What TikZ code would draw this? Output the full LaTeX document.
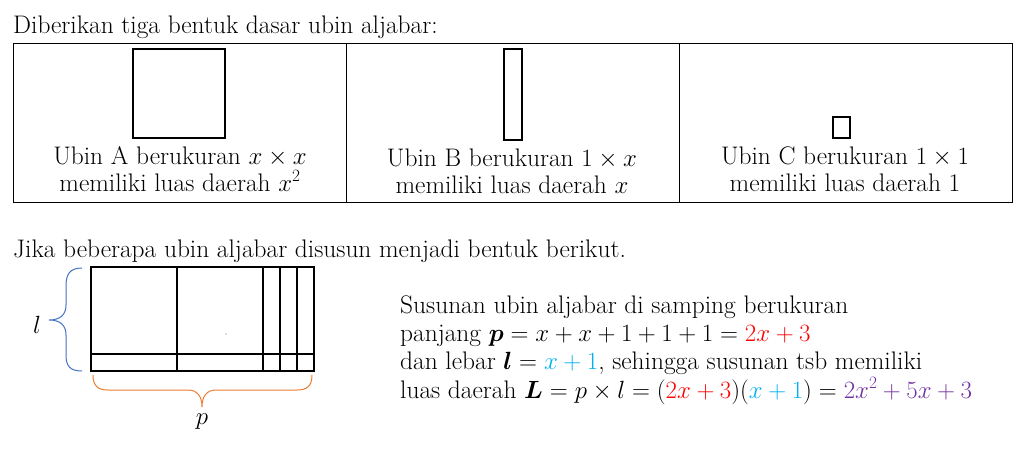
\documentclass[tikz,border=0pt]{standalone}
\usepackage{fontspec}
\usepackage{amsmath,bm}
\usepackage{xcolor}
\definecolor{cred}{RGB}{255,0,0}
\definecolor{ccyan}{RGB}{0,176,240}
\definecolor{cpurp}{RGB}{112,48,160}
\definecolor{bblue}{RGB}{68,114,196}
\definecolor{borange}{RGB}{237,125,49}
\begin{document}
\begin{tikzpicture}[x=1pt,y=-1pt,
  txt/.style={inner sep=0pt,font=\fontsize{25.4}{30}\selectfont},
  lt/.style={txt,anchor=base west},
  ct/.style={txt,anchor=base},
  tbl/.style={line width=0.9pt},
  tile/.style={line width=1.1pt},
  arr/.style={line width=1.3pt}]
\useasboundingbox (0,0) rectangle (1029,448);
% title
\node[lt] (title) at (13,33) {Diberikan tiga bentuk dasar ubin aljabar:};
% table
\draw[tbl] (13,43) rectangle (1012,202);
\draw[tbl] (346,43) -- (346,202);
\draw[tbl] (679,43) -- (679,202);
% tiles
\draw[tile] (133,49) rectangle (225,138);
\draw[tile] (504,49) rectangle (522,140);
\draw[tile] (833,117) rectangle (850,138);
% captions
\node[ct] (a1) at (180,164) {Ubin A berukuran $x\times x$};
\node[ct] (a2) at (180,191) {memiliki luas daerah $x^2$};
\node[ct] (b1) at (512,166) {Ubin B berukuran $1\times x$};
\node[ct] (b2) at (512,193) {memiliki luas daerah $x$};
\node[ct] (c1) at (845,164) {Ubin C berukuran $1\times 1$};
\node[ct] (c2) at (845,191) {memiliki luas daerah 1};
% second heading
\node[lt] (jika) at (13,257) {Jika beberapa ubin aljabar disusun menjadi bentuk berikut.};
% arrangement
\draw[arr] (91,267) rectangle (314,371);
\draw[arr] (91,354) -- (314,354);
\foreach \xx in {177,263,280,297} \draw[arr] (\xx,267) -- (\xx,371);
\fill[bblue] (226,334) circle (0.6);
% left brace
\draw[bblue,line width=1pt] (82,268) .. controls (70,268) and (66,274) .. (66,286) -- (66,305) .. controls (66,315) and (60,320) .. (49,320) .. controls (60,320) and (66,325) .. (66,335) -- (66,355) .. controls (66,366) and (70,371) .. (82,371);
\node[txt] (l) at (37,325) {$l$};
% bottom brace
\draw[borange,line width=1pt] (93,375) .. controls (93,386) and (98,390) .. (108,390) -- (188,390) .. controls (197,390) and (202,396) .. (202,407) .. controls (202,396) and (207,390) .. (216,390) -- (297,390) .. controls (307,390) and (312,386) .. (312,375);
\node[txt] (p) at (202,422) {$p$};
% explanation
\node[lt] (e1) at (400,313) {Susunan ubin aljabar di samping berukuran};
\node[lt] (e2) at (400,341) {panjang $\bm{p}=x+x+1+1+1=\textcolor{cred}{2x+3}$};
\node[lt] (e3) at (400,369) {dan lebar $\bm{l}=\textcolor{ccyan}{x+1}$, sehingga susunan tsb memiliki};
\node[lt] (e4) at (400,398) {luas daerah $\bm{L}=p\times l=(\textcolor{cred}{2x+3})(\textcolor{ccyan}{x+1})=\textcolor{cpurp}{2x^2+5x+3}$};
\end{tikzpicture}
\end{document}
